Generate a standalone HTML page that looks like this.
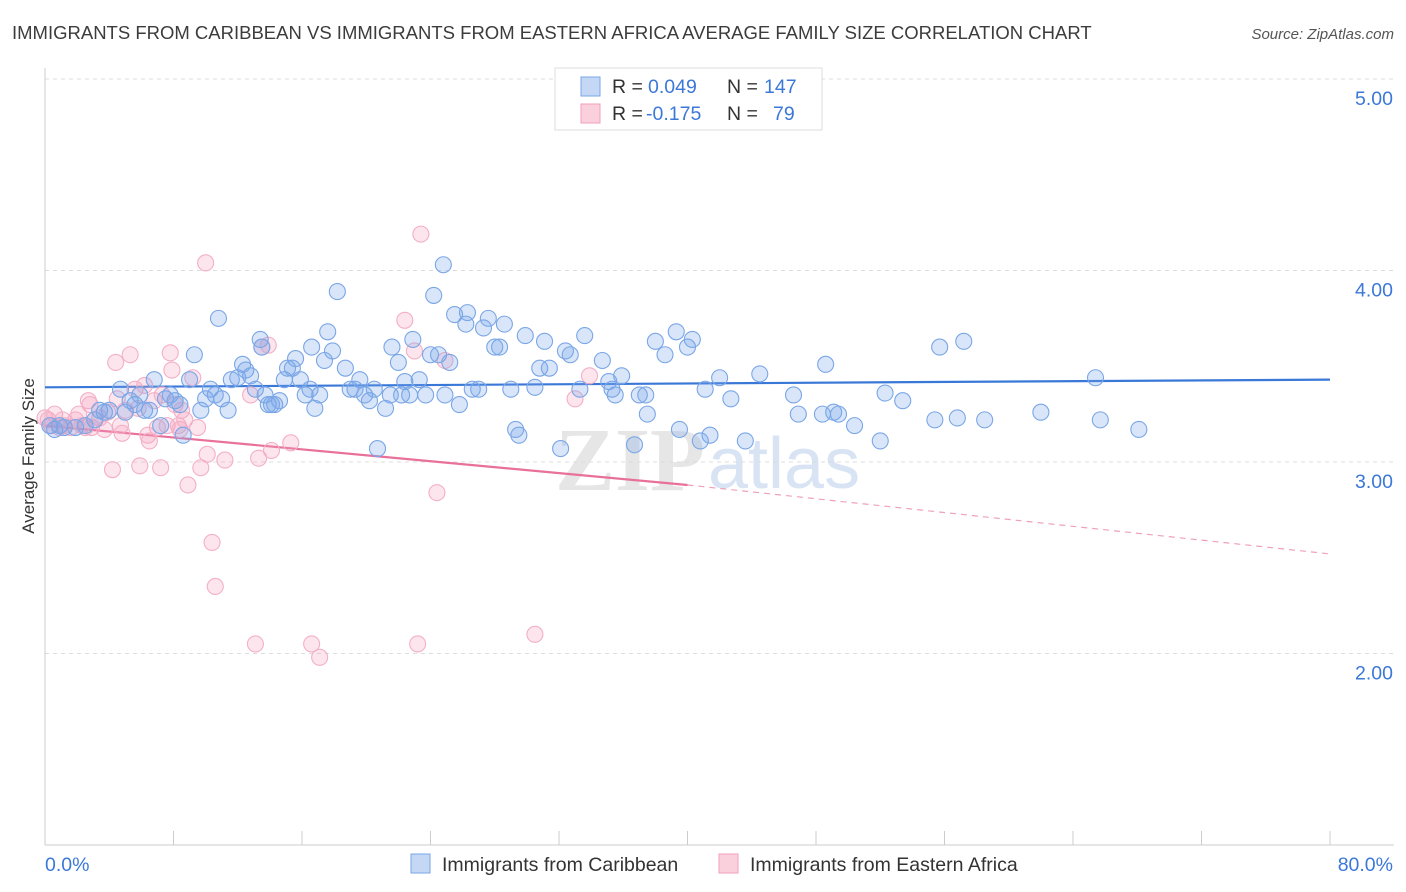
<!DOCTYPE html>
<html><head><meta charset="utf-8">
<style>
body{margin:0;background:#fff;font-family:"Liberation Sans",sans-serif;}
#wrap{position:relative;width:1406px;height:892px;overflow:hidden;}
</style></head>
<body>
<div id="wrap">
<svg id="chart" width="1406" height="892">
  <text x="12" y="39" font-size="18.5" fill="#3c3c3c">IMMIGRANTS FROM CARIBBEAN VS IMMIGRANTS FROM EASTERN AFRICA AVERAGE FAMILY SIZE CORRELATION CHART</text>
  <text x="1394" y="39" font-size="15" fill="#555" font-style="italic" text-anchor="end">Source: ZipAtlas.com</text>
  <text x="34" y="456" font-size="17" fill="#333" text-anchor="middle" transform="rotate(-90 34 456)">Average Family Size</text>
  <text x="555" y="490" font-size="90" fill="#e6e6e6" font-weight="bold" font-family="Liberation Serif,serif">ZIP</text>
  <text x="708" y="488" font-size="72" fill="#d8e4f4">atlas</text>
  <g id="grid"></g><g id="axes"></g><g id="trend"></g><g id="pts"></g>
  <g>
    <rect x="555" y="68" width="267" height="62" fill="#fff" stroke="#ddd"/>
    <rect x="581" y="77" width="19" height="19" fill="#c4d8f5" stroke="#7aa6e6"/>
    <rect x="581" y="104" width="19" height="19" fill="#fbd0dd" stroke="#f0a0bb"/>
    <text x="612" y="93" font-size="19.5" fill="#333">R = <tspan x="648" fill="#3b78d8">0.049</tspan></text>
    <text x="727" y="93" font-size="19.5" fill="#333">N = <tspan x="764" fill="#3b78d8">147</tspan></text>
    <text x="612" y="120" font-size="19.5" fill="#333">R = <tspan x="646" fill="#3b78d8">-0.175</tspan></text>
    <text x="727" y="120" font-size="19.5" fill="#333">N = <tspan x="773" fill="#3b78d8">79</tspan></text>
  </g>
  <g>
    <rect x="411" y="854" width="19" height="19" fill="#c4d8f5" stroke="#7aa6e6"/>
    <text x="442" y="871" font-size="19.5" fill="#333">Immigrants from Caribbean</text>
    <rect x="719" y="854" width="19" height="19" fill="#fbd0dd" stroke="#f0a0bb"/>
    <text x="750" y="871" font-size="19.5" fill="#333">Immigrants from Eastern Africa</text>
  </g>
</svg>
</div>
<script>
const yTicks=[2,3,4,5];
const yTickLabels=["2.00","3.00","4.00","5.00"];
const xTicks=[0,8,16,24,32,40,48,56,64,72,80];
const xEndLabels=["0.0%","80.0%"];
const blueX=[0.3,0.6,0.9,1.2,1.9,2.5,3.1,3.4,3.7,4.0,4.7,5.0,5.3,5.6,5.9,6.2,6.5,6.8,7.2,7.5,7.8,8.1,8.4,8.6,9.0,9.3,9.7,10.0,10.3,10.6,10.8,11.0,11.4,11.6,12.0,12.3,12.5,12.8,13.1,13.4,13.5,13.7,13.9,14.1,14.3,14.6,14.9,15.1,15.4,15.6,15.9,16.2,16.5,16.6,16.8,17.1,17.4,17.6,17.9,18.2,18.7,19.0,19.3,19.6,19.9,20.2,20.5,20.7,21.2,21.5,21.6,22.0,22.2,22.4,22.7,22.9,23.3,23.7,24.0,24.2,24.5,24.8,24.9,25.2,25.5,25.8,26.2,26.3,26.6,27.0,27.3,27.6,28.0,28.3,28.6,29.0,29.3,29.5,29.9,30.5,30.8,31.1,31.4,32.1,32.4,32.7,33.3,33.6,34.7,35.1,35.3,35.5,35.9,36.7,37.0,37.4,37.5,38.0,38.6,39.3,39.5,40.0,40.3,40.8,41.1,41.4,42.0,42.7,43.6,44.5,46.6,46.9,48.4,48.6,49.1,49.4,50.4,52.0,52.3,53.4,55.4,55.7,56.8,57.2,58.5,62.0,65.4,65.7,68.1];
const blueY=[3.19,3.17,3.19,3.18,3.18,3.19,3.22,3.27,3.26,3.27,3.38,3.26,3.32,3.30,3.35,3.27,3.27,3.43,3.19,3.33,3.35,3.32,3.30,3.14,3.43,3.56,3.27,3.33,3.38,3.35,3.75,3.33,3.27,3.43,3.44,3.51,3.48,3.45,3.38,3.64,3.60,3.35,3.30,3.30,3.30,3.32,3.43,3.49,3.49,3.54,3.43,3.35,3.38,3.60,3.28,3.35,3.53,3.68,3.58,3.89,3.49,3.38,3.38,3.43,3.35,3.32,3.38,3.07,3.28,3.35,3.60,3.52,3.35,3.42,3.35,3.64,3.43,3.35,3.56,3.87,3.56,4.03,3.35,3.52,3.77,3.30,3.72,3.78,3.38,3.38,3.70,3.75,3.60,3.60,3.72,3.38,3.17,3.14,3.66,3.39,3.49,3.63,3.49,3.07,3.58,3.56,3.38,3.66,3.53,3.42,3.38,3.35,3.45,3.09,3.35,3.35,3.25,3.63,3.56,3.68,3.17,3.60,3.64,3.11,3.38,3.14,3.44,3.33,3.11,3.46,3.35,3.25,3.25,3.51,3.26,3.25,3.19,3.11,3.36,3.32,3.22,3.60,3.23,3.63,3.22,3.26,3.44,3.22,3.17];
const pinkX=[0.0,0.2,0.4,0.6,0.9,1.1,1.2,1.6,1.9,2.1,2.3,2.5,2.7,2.8,2.9,3.1,3.4,3.7,3.9,4.2,4.4,4.5,4.7,4.8,5.0,5.3,5.6,5.8,5.9,6.2,6.4,6.5,6.8,7.0,7.2,7.3,7.6,7.8,7.9,8.1,8.3,8.4,8.5,8.7,8.9,9.2,9.5,9.7,10.0,10.1,10.4,10.6,11.2,12.8,13.1,13.3,13.5,13.9,14.1,15.3,16.6,17.1,22.4,23.0,23.2,23.4,24.4,24.9,30.5,33.0,33.9];
const pinkY=[3.23,3.22,3.19,3.25,3.18,3.22,3.19,3.18,3.22,3.25,3.19,3.18,3.32,3.30,3.18,3.22,3.23,3.17,3.26,2.96,3.52,3.33,3.19,3.15,3.27,3.56,3.38,3.28,2.98,3.40,3.14,3.11,3.32,3.18,2.97,3.35,3.19,3.57,3.48,3.30,3.19,3.17,3.27,3.22,2.88,3.44,3.18,2.97,4.04,3.04,2.58,2.35,3.01,3.35,2.05,3.02,3.60,3.61,3.06,3.10,2.05,1.98,3.74,3.58,2.05,4.19,2.84,3.53,2.10,3.33,3.45];
const blueTrend=[3.39,3.43];
const pinkTrend=[3.19,2.88,2.52];

const NS="http://www.w3.org/2000/svg";
const X0=45,X1=1330;
function xs(p){return X0+(p-0)/(80-0)*(X1-X0);}
function ys(v){return 462-(v-3)*191.5;}
function mk(tag,attrs,parent){const e=document.createElementNS(NS,tag);for(const k in attrs)e.setAttribute(k,attrs[k]);document.getElementById(parent).appendChild(e);return e;}

yTicks.forEach((t,i)=>{
  const g=mk('line',{x1:45,x2:1394,y1:ys(t),y2:ys(t),stroke:'#dcdcdc','stroke-dasharray':'4,4'},'grid');
  
  
  const l=mk('text',{x:1393,y:ys(t)+26,'font-size':19.5,fill:'#3b78d8','text-anchor':'end'},'axes');
  l.textContent=yTickLabels[i];
  
  
});
const ax=mk('line',{x1:45,x2:1394,y1:845,y2:845,stroke:'#ccc'},'axes');


const ay=mk('line',{x1:45,x2:45,y1:68,y2:845,stroke:'#ccc'},'axes');


xTicks.forEach(t=>{
  const tk=mk('line',{x1:xs(t),x2:xs(t),y1:831,y2:845,stroke:'#ccc'},'axes');
  
  
});
const xl0=mk('text',{x:45,y:871,'font-size':19.5,fill:'#3b78d8'},'axes');
xl0.textContent=xEndLabels[0];


const xl1=mk('text',{x:1393,y:871,'font-size':19.5,fill:'#3b78d8','text-anchor':'end'},'axes');
xl1.textContent=xEndLabels[1];



pinkX.forEach((x,i)=>{
  const c=mk('circle',{cx:xs(x),cy:ys(pinkY[i]),r:8,fill:'rgba(244,160,190,0.28)',stroke:'#f4afc6','stroke-width':1.1},'pts');
  
  
});
blueX.forEach((x,i)=>{
  const c=mk('circle',{cx:xs(x),cy:ys(blueY[i]),r:8,fill:'rgba(120,165,235,0.28)',stroke:'#7aa6e6','stroke-width':1.1},'pts');
  
  
});
const bt=mk('line',{x1:xs(0),y1:ys(blueTrend[0]),x2:xs(80),y2:ys(blueTrend[1]),stroke:'#3a78d8','stroke-width':2.2},'trend');


const pt=mk('line',{x1:xs(0),y1:ys(pinkTrend[0]),x2:xs(40),y2:ys(pinkTrend[1]),stroke:'#e8709a','stroke-width':2.2},'trend');


const pd=mk('line',{x1:xs(40),y1:ys(pinkTrend[1]),x2:xs(80),y2:ys(pinkTrend[2]),stroke:'#f0a0bb','stroke-width':1.2,'stroke-dasharray':'6,5'},'trend');


</script>
</body></html>
